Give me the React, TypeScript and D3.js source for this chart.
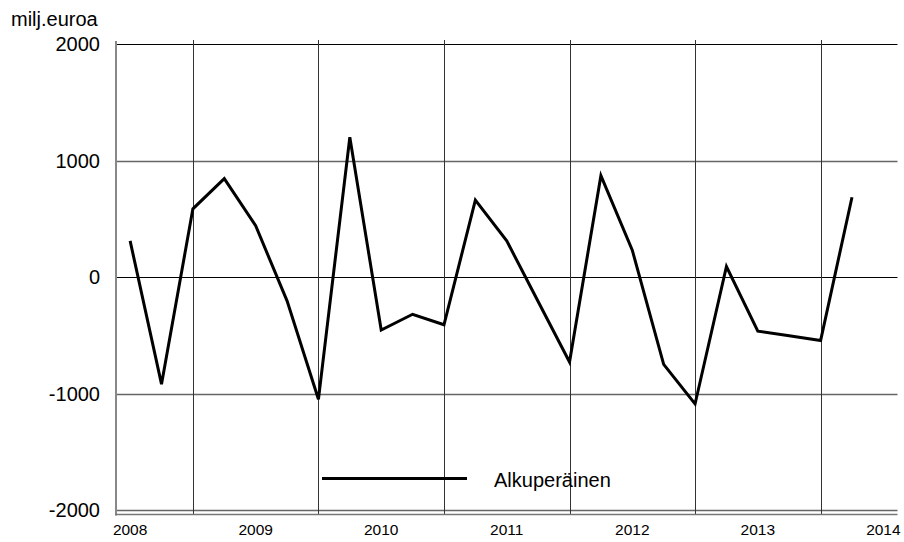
import * as d3 from 'd3'

const years = ['2008', '2009', '2010', '2011', '2012', '2013', '2014']
// quarterly values 2008Q1 .. 2013Q4, milj. euroa
const values = [
  310, -920, 585, 845, 440, -205, -1050, 1200,
  -455, -320, -410, 660, 310, -210, -730, 870,
  230, -750, -1090, 90, -465, -505, -545, 685,
]
const yTicks = [2000, 1000, 0, -1000, -2000]
const legendLabel = 'Alkuperäinen'
const unitLabel = 'milj.euroa'

const W = 904
const H = 542
const font = '"Liberation Sans", Arial, sans-serif'

export default function App() {
  const x = d3.scaleLinear().domain([-0.45, 24.45]).range([116, 897.5])
  const y = d3.scaleLinear().domain([-2000, 2000]).range([510, 44])

  const line = d3
    .line<number>()
    .x((_, i) => x(i))
    .y((d) => y(d))

  // vertical grid between the 2nd and 3rd quarter index of each year
  const vGrid = d3.range(2, values.length, 4)
  const top = 40
  const axisY = 514.5

  return (
    <svg width={W} height={H} style={{ position: 'absolute', left: 0, top: 0, background: '#fff' }}>
      <text x={11} y={26} fontFamily={font} fontSize={20} fill="#000">
        {unitLabel}
      </text>

      {yTicks.map((t) => (
        <g key={t}>
          <line
            x1={116}
            x2={897.5}
            y1={Math.round(y(t)) + 0.5}
            y2={Math.round(y(t)) + 0.5}
            stroke={t === 0 || t === 2000 ? '#000' : '#666'}
            strokeWidth={t === 0 || t === 2000 ? 1 : 1.4}
          />
          <text
            x={100}
            y={y(t)}
            dy="0.36em"
            textAnchor="end"
            fontFamily={font}
            fontSize={20}
            fill="#000"
          >
            {t}
          </text>
        </g>
      ))}

      {vGrid.map((i) => (
        <line
          key={i}
          x1={Math.round(x(i)) + 0.5}
          x2={Math.round(x(i)) + 0.5}
          y1={top}
          y2={axisY}
          stroke="#333"
          strokeWidth={1}
        />
      ))}

      <line x1={116} x2={116} y1={41} y2={axisY + 1} stroke="#888" strokeWidth={2} />
      <line x1={115} x2={897.5} y1={axisY} y2={axisY} stroke="#777" strokeWidth={1.6} />

      {years.map((yr, k) => (
        <text
          key={yr}
          x={x(k * 4)}
          y={535}
          textAnchor="middle"
          fontFamily={font}
          fontSize={15.5}
          fill="#000"
        >
          {yr}
        </text>
      ))}

      <path d={line(values) ?? ''} fill="none" stroke="#000" strokeWidth={3} strokeLinejoin="miter" />

      <line x1={322} x2={467} y1={478.5} y2={478.5} stroke="#000" strokeWidth={3} />
      <text x={494} y={487} fontFamily={font} fontSize={20} fill="#000">
        {legendLabel}
      </text>
    </svg>
  )
}
